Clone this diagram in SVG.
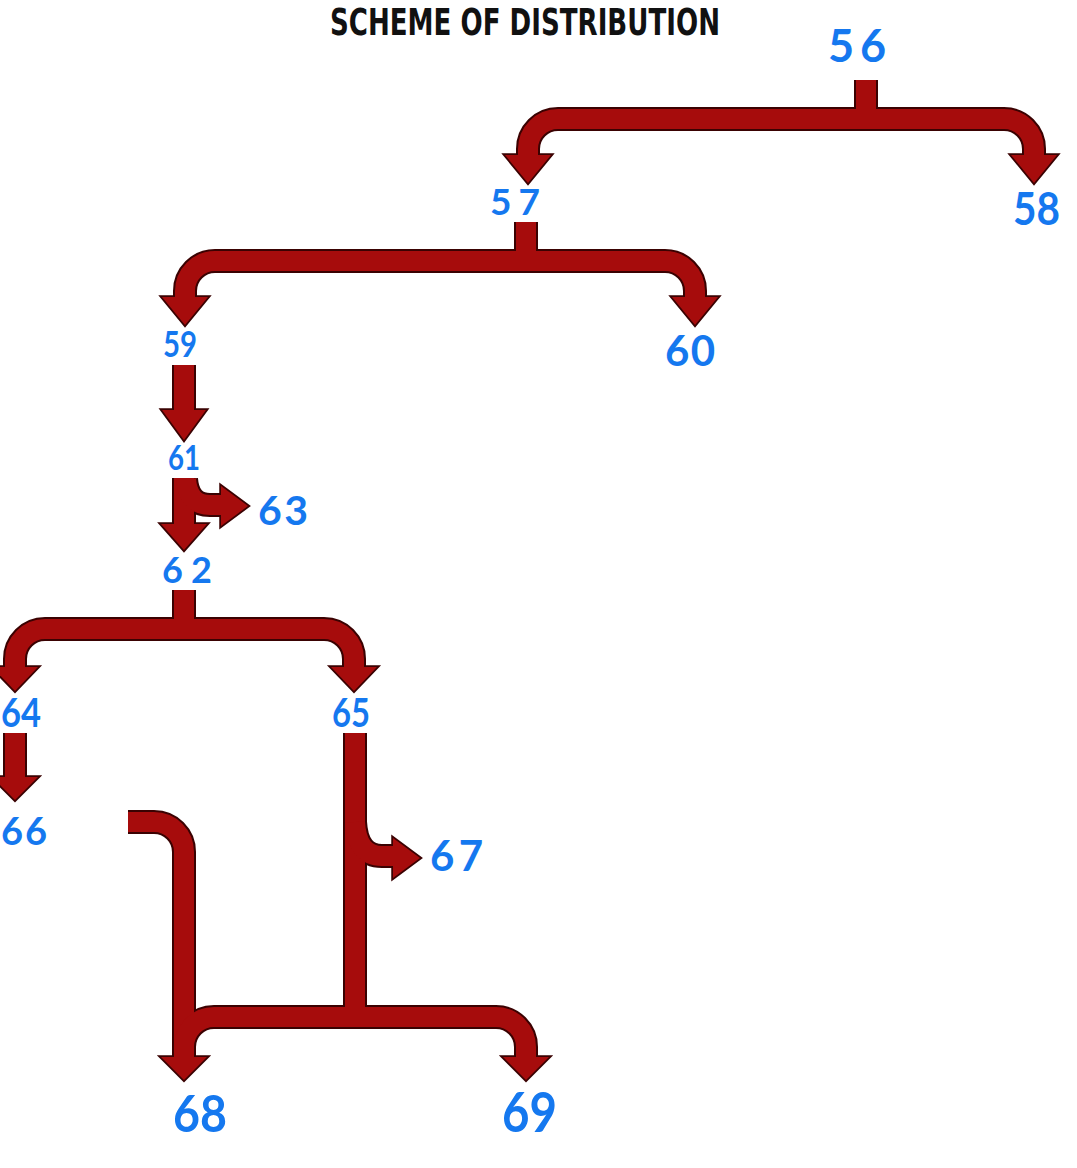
<svg xmlns="http://www.w3.org/2000/svg" xmlns:xlink="http://www.w3.org/1999/xlink" width="1077" height="1168" viewBox="0 0 1077 1168">
<style>
.ol{fill:none;stroke:#3a0202;stroke-width:24;stroke-linejoin:round}
.fl{fill:none;stroke:#a60c0c;stroke-width:20;stroke-linejoin:round}
.hol{fill:#3a0202;stroke:#3a0202;stroke-width:3.5;stroke-linejoin:miter}
.hfl{fill:#a60c0c}
.lbl{font-family:Lato,"Noto Sans",sans-serif;font-weight:bold;fill:#1578ef}
.title{font-family:"DejaVu Sans Condensed","DejaVu Sans",sans-serif;font-weight:bold;fill:#111}
</style>
<defs>
<path id="aStem" d="M866,80 V120"/>
<path id="aBar" d="M528,160 V149 A30,30 0 0 1 558,119 H1004 A30,30 0 0 1 1034,149 V160"/>
<polygon id="aH1" points="505,155 551,155 528,183"/>
<polygon id="aH2" points="1011,155 1057,155 1034,183"/>
<path id="bStem" d="M526,222 V262"/>
<path id="bBar" d="M185,302 V291 A30,30 0 0 1 215,261 H665 A30,30 0 0 1 695,291 V302"/>
<polygon id="bH1" points="162,297 208,297 185,325"/>
<polygon id="bH2" points="672,297 718,297 695,325"/>
<path id="s59" d="M184,365 V415"/>
<polygon id="h59" points="162,410 206,410 184,440"/>
<path id="s61" d="M184,478 V528"/>
<polygon id="h61" points="161,524 207,524 184,550"/>
<path id="s63" d="M186,479 Q188,505 210,505 H226"/>
<polygon id="h63" points="221,486 221,526 248,506"/>
<path id="cStem" d="M184,590 V630"/>
<path id="cBar" d="M15,672 V659 A30,30 0 0 1 45,629 H324 A30,30 0 0 1 354,659 V672"/>
<polygon id="cH1" points="-8,667 38,667 15,691"/>
<polygon id="cH2" points="331,667 377,667 354,691"/>
<path id="s64" d="M15,733 V782"/>
<polygon id="h64" points="-8,777 38,777 15,800"/>
<path id="s65" d="M355,733 V1017"/>
<path id="s67" d="M355,822 Q357,856 382,856 H398"/>
<polygon id="h67" points="393,838 393,878 420,858"/>
<path id="sL" d="M128,822 H154 A30,30 0 0 1 184,852 V1062"/>
<polygon id="hL" points="161,1057 207,1057 184,1080"/>
<path id="sBar" d="M184,1047 A30,30 0 0 1 214,1017 H496 A30,30 0 0 1 526,1047 V1062"/>
<polygon id="hBar" points="503,1057 549,1057 526,1080"/>
</defs>
<rect width="1077" height="1168" fill="#ffffff"/>
<g id="title"><text class="title" transform="scale(1,1.3)" x="330" y="27" font-size="29" textLength="390" lengthAdjust="spacingAndGlyphs">SCHEME OF DISTRIBUTION</text></g>
<g id="connectors">
<g id="outlines">
<use xlink:href="#aStem" class="ol"/><use xlink:href="#aBar" class="ol"/>
<use xlink:href="#bStem" class="ol"/><use xlink:href="#bBar" class="ol"/>
<use xlink:href="#s59" class="ol"/><use xlink:href="#s61" class="ol"/><use xlink:href="#s63" class="ol"/>
<use xlink:href="#cStem" class="ol"/><use xlink:href="#cBar" class="ol"/>
<use xlink:href="#s64" class="ol"/><use xlink:href="#s65" class="ol"/><use xlink:href="#s67" class="ol"/>
<use xlink:href="#sL" class="ol"/><use xlink:href="#sBar" class="ol"/>
<use xlink:href="#aH1" class="hol"/><use xlink:href="#aH2" class="hol"/>
<use xlink:href="#bH1" class="hol"/><use xlink:href="#bH2" class="hol"/>
<use xlink:href="#h59" class="hol"/><use xlink:href="#h61" class="hol"/><use xlink:href="#h63" class="hol"/>
<use xlink:href="#cH1" class="hol"/><use xlink:href="#cH2" class="hol"/>
<use xlink:href="#h64" class="hol"/><use xlink:href="#h67" class="hol"/>
<use xlink:href="#hL" class="hol"/><use xlink:href="#hBar" class="hol"/>
</g>
<g id="fills">
<use xlink:href="#aStem" class="fl"/><use xlink:href="#aBar" class="fl"/>
<use xlink:href="#bStem" class="fl"/><use xlink:href="#bBar" class="fl"/>
<use xlink:href="#s59" class="fl"/><use xlink:href="#s61" class="fl"/><use xlink:href="#s63" class="fl"/>
<use xlink:href="#cStem" class="fl"/><use xlink:href="#cBar" class="fl"/>
<use xlink:href="#s64" class="fl"/><use xlink:href="#s65" class="fl"/><use xlink:href="#s67" class="fl"/>
<use xlink:href="#sL" class="fl"/><use xlink:href="#sBar" class="fl"/>
<use xlink:href="#aH1" class="hfl"/><use xlink:href="#aH2" class="hfl"/>
<use xlink:href="#bH1" class="hfl"/><use xlink:href="#bH2" class="hfl"/>
<use xlink:href="#h59" class="hfl"/><use xlink:href="#h61" class="hfl"/><use xlink:href="#h63" class="hfl"/>
<use xlink:href="#cH1" class="hfl"/><use xlink:href="#cH2" class="hfl"/>
<use xlink:href="#h64" class="hfl"/><use xlink:href="#h67" class="hfl"/>
<use xlink:href="#hL" class="hfl"/><use xlink:href="#hBar" class="hfl"/>
</g>
</g>
<g id="n56"><text class="lbl" x="828" y="62" font-size="45" textLength="58" lengthAdjust="spacing">56</text></g>
<g id="n57"><text class="lbl" x="490" y="215" font-size="37" textLength="50" lengthAdjust="spacing">57</text></g>
<g id="n58"><text class="lbl" x="1013" y="225" font-size="45" textLength="47" lengthAdjust="spacingAndGlyphs">58</text></g>
<g id="n59"><text class="lbl" x="163" y="357" font-size="37" textLength="34" lengthAdjust="spacingAndGlyphs">59</text></g>
<g id="n60"><text class="lbl" x="665" y="366" font-size="42" textLength="50" lengthAdjust="spacing">60</text></g>
<g id="n61"><text class="lbl" x="168" y="470" font-size="35" textLength="32" lengthAdjust="spacingAndGlyphs">61</text></g>
<g id="n62"><text class="lbl" x="162" y="583" font-size="36" textLength="50" lengthAdjust="spacing">62</text></g>
<g id="n63"><text class="lbl" x="258" y="525" font-size="41" textLength="50" lengthAdjust="spacing">63</text></g>
<g id="n64"><text class="lbl" x="1" y="727" font-size="40" textLength="40" lengthAdjust="spacingAndGlyphs">64</text></g>
<g id="n65"><text class="lbl" x="332" y="727" font-size="40" textLength="38" lengthAdjust="spacingAndGlyphs">65</text></g>
<g id="n66"><text class="lbl" x="1" y="845" font-size="38" textLength="46" lengthAdjust="spacing">66</text></g>
<g id="n67"><text class="lbl" x="430" y="871" font-size="42" textLength="53" lengthAdjust="spacing">67</text></g>
<g id="n68"><text class="lbl" x="173" y="1132" font-size="51" textLength="54" lengthAdjust="spacingAndGlyphs">68</text></g>
<g id="n69"><text class="lbl" x="502" y="1132" font-size="56" textLength="55" lengthAdjust="spacingAndGlyphs">69</text></g>
</svg>
